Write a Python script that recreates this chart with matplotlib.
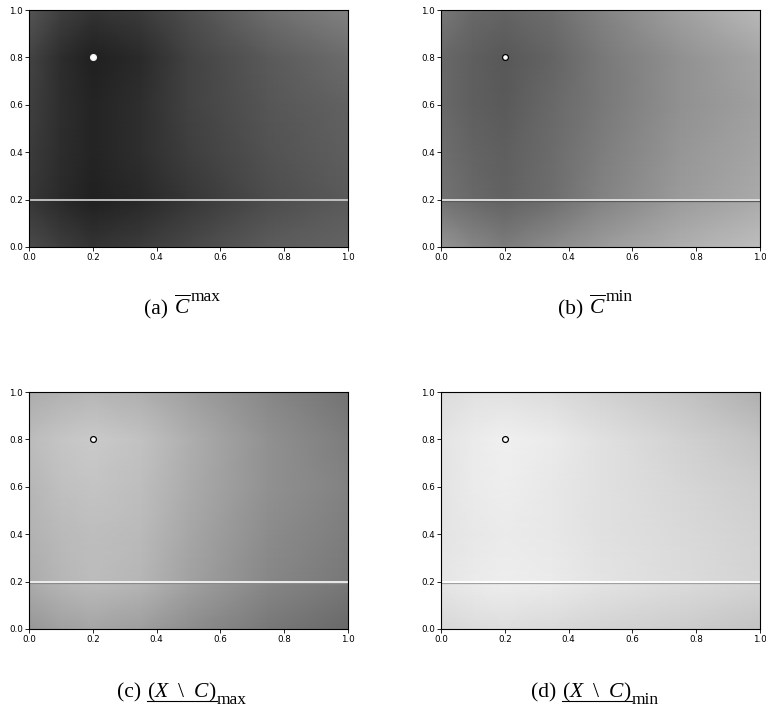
import numpy as np
import matplotlib
matplotlib.use("Agg")
import matplotlib.pyplot as plt
from matplotlib import transforms
from matplotlib.lines import Line2D

plt.rcParams['mathtext.fontset'] = 'custom'
plt.rcParams['mathtext.rm'] = 'Liberation Serif'
plt.rcParams['mathtext.it'] = 'Liberation Serif:italic'
plt.rcParams['mathtext.bf'] = 'Liberation Serif:bold'

# sampling grid of the four gray-level fields (x across, y up)
grid_x = [0.0, 0.1, 0.2, 0.35, 0.5, 0.75, 1.0]
grid_y = [0.0, 0.2, 0.4, 0.6, 0.8, 1.0]

# gray levels (0 = black, 255 = white), one row per grid_y value
field_a = [
    [75, 62, 52, 60, 72, 92, 100],
    [55, 42, 32, 40, 54, 76, 90],
    [60, 45, 36, 46, 62, 82, 95],
    [64, 46, 36, 46, 66, 86, 98],
    [68, 45, 32, 42, 66, 90, 108],
    [85, 64, 52, 60, 78, 110, 130],
]
field_b = [
    [150, 135, 125, 140, 155, 175, 190],
    [115, 105, 98, 110, 130, 155, 170],
    [110, 100, 95, 108, 125, 150, 165],
    [105, 95, 90, 105, 120, 145, 160],
    [105, 95, 88, 100, 120, 145, 165],
    [120, 105, 100, 110, 130, 160, 185],
]
field_c = [
    [150, 160, 165, 158, 142, 120, 105],
    [172, 182, 188, 182, 162, 135, 120],
    [178, 186, 190, 186, 167, 140, 125],
    [182, 192, 196, 190, 172, 145, 130],
    [188, 197, 202, 194, 175, 145, 125],
    [172, 178, 182, 175, 160, 135, 115],
]
field_d = [
    [215, 220, 222, 218, 212, 205, 195],
    [230, 235, 238, 235, 228, 220, 212],
    [228, 232, 235, 232, 225, 218, 210],
    [228, 235, 238, 232, 225, 215, 205],
    [228, 235, 240, 235, 225, 210, 195],
    [220, 225, 225, 220, 210, 195, 175],
]

point_x, point_y = 0.2, 0.8
line_y = 0.2
tick_values = [0.0, 0.2, 0.4, 0.6, 0.8, 1.0]
tick_labels = ['0.0', '0.2', '0.4', '0.6', '0.8', '1.0']

# per-panel colours of the line at y = 0.2 (bright upper edge, darker lower edge)
line_light = ['#c8c8c8', '#e2e2e2', '#f2f2f2', '#ffffff']
line_dark = [None, '#5a5a5a', '#8a8a8a', '#a0a0a0']
marker_edge = ['#f0f0f0', 'black', 'black', 'black']

fields = [field_a, field_b, field_c, field_d]

W_PX, H_PX, DPI = 766, 708, 100
fig = plt.figure(figsize=(W_PX / DPI, H_PX / DPI), dpi=DPI)

ax_w, ax_h = 319 / W_PX, 237 / H_PX
lefts = [29 / W_PX, 441 / W_PX]
bottoms = [461 / H_PX, 79 / H_PX]
positions = [
    (lefts[0], bottoms[0]), (lefts[1], bottoms[0]),
    (lefts[0], bottoms[1]), (lefts[1], bottoms[1]),
]

X, Y = np.meshgrid(grid_x, grid_y)
for i, (field, (l, b)) in enumerate(zip(fields, positions)):
    ax = fig.add_axes([l, b, ax_w, ax_h])
    ax.pcolormesh(X, Y, np.array(field, dtype=float), cmap='gray',
                  vmin=0, vmax=255, shading='gouraud', rasterized=True)
    if line_dark[i] is not None:
        below = transforms.offset_copy(ax.transData, fig=fig, x=0, y=-1.2, units='dots')
        ax.plot([0, 1], [line_y, line_y], color=line_dark[i], lw=0.9,
                transform=below, solid_capstyle='butt')
    ax.plot([0, 1], [line_y, line_y], color=line_light[i], lw=1.3,
            solid_capstyle='butt')
    ax.plot([point_x], [point_y], 'o', ms=4.2, mfc='white',
            mec=marker_edge[i], mew=0.9)
    ax.set_xlim(0, 1)
    ax.set_ylim(0, 1)
    ax.set_xticks(tick_values)
    ax.set_xticklabels(tick_labels)
    ax.set_yticks(tick_values)
    ax.set_yticklabels(tick_labels)
    ax.tick_params(labelsize=6.3, length=3, width=0.6, pad=1.5)
    for s in ax.spines.values():
        s.set_linewidth(0.8)

CAP_SIZE = 15.5
SCRIPT_SIZE = 12.5
SERIF = 'Liberation Serif'
cap_x = [182 / W_PX, 595 / W_PX]

fig.canvas.draw()
renderer = fig.canvas.get_renderer()


def caption(xc, base_px, label, body, script, script_shift, underline):
    """Caption made of a label, a math body and a raised/lowered script word."""
    base = 1 - base_px / H_PX
    t_lab = fig.text(0, base, label, fontsize=CAP_SIZE, family=SERIF, va='baseline')
    t_body = fig.text(0, base, body, fontsize=CAP_SIZE, family=SERIF, va='baseline')
    t_scr = fig.text(0, base + script_shift / H_PX, script, fontsize=SCRIPT_SIZE,
                     family=SERIF, va='baseline')
    w_lab = t_lab.get_window_extent(renderer).width
    w_body = t_body.get_window_extent(renderer).width
    w_scr = t_scr.get_window_extent(renderer).width
    gap = 6
    total = w_lab + gap + w_body + w_scr
    x0 = xc * W_PX - total / 2
    t_lab.set_x(x0 / W_PX)
    xb = x0 + w_lab + gap
    t_body.set_x(xb / W_PX)
    t_scr.set_x((xb + w_body) / W_PX)
    if underline:
        uy = base - 4 / H_PX
        fig.add_artist(Line2D([xb / W_PX, (xb + w_body) / W_PX], [uy, uy],
                              transform=fig.transFigure, color='black', lw=0.8))


caption(cap_x[0], 314, '(a)', r'$\overline{C}$', 'max', 13, False)
caption(cap_x[1], 314, '(b)', r'$\overline{C}$', 'min', 13, False)
caption(cap_x[0], 697, '(c)', r'$(X\ \ \backslash\ \ C)$', 'max', -6.6, True)
caption(cap_x[1], 697, '(d)', r'$(X\ \ \backslash\ \ C)$', 'min', -6.6, True)

fig.savefig('out.png', dpi=DPI)
